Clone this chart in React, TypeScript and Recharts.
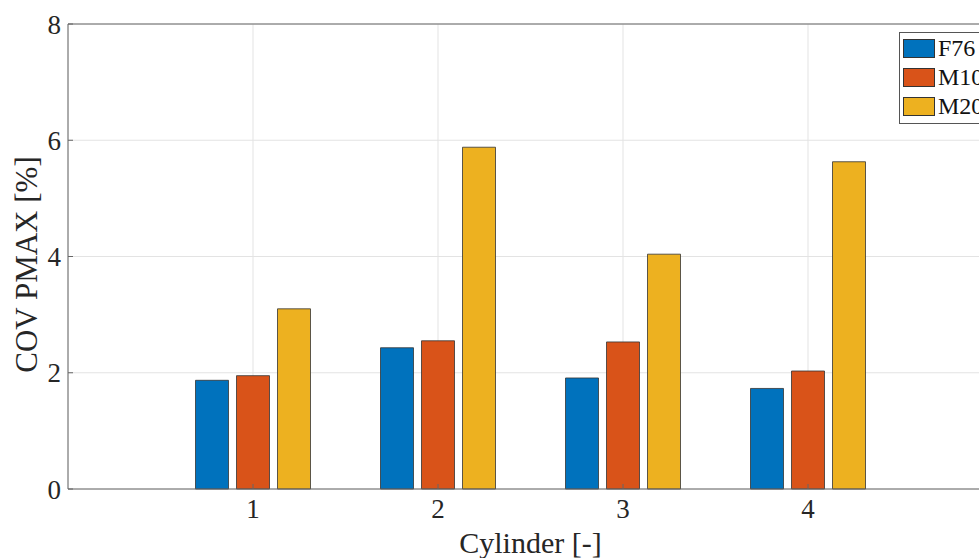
import { BarChart, Bar, XAxis, YAxis, CartesianGrid, Legend, ReferenceLine } from 'recharts';

const cylinders = [1, 2, 3, 4];
const f76 = [1.87, 2.43, 1.91, 1.73];
const m10 = [1.95, 2.55, 2.53, 2.03];
const m20 = [3.1, 5.88, 4.04, 5.63];
const yTicks = [0, 2, 4, 6, 8];

const series = [
    { key: 'F76', color: '#0072BD' },
    { key: 'M10', color: '#D95319' },
    { key: 'M20', color: '#EDB120' },
];

const data = cylinders.map((c, i) => ({ cyl: c, F76: f76[i], M10: m10[i], M20: m20[i] }));

const font = '"Liberation Serif", "DejaVu Serif", serif';
const axisColor = '#666666';
const textColor = '#262626';

function LegendBox() {
    return (
        <div
            style={{
                background: '#fff',
                border: '1px solid #555',
                padding: '1px 10px 2px 3px',
                fontFamily: font,
                fontSize: 24,
                color: '#111',
            }}
        >
            {series.map((s) => (
                <div key={s.key} style={{ display: 'flex', alignItems: 'center', height: 29 }}>
                    <span
                        style={{
                            display: 'inline-block',
                            width: 30,
                            height: 17,
                            background: s.color,
                            border: '1px solid #333',
                            marginRight: 3,
                        }}
                    />
                    <span>{s.key}</span>
                </div>
            ))}
        </div>
    );
}

function YLabel(props: any) {
    const vb = props.viewBox || { x: 0, y: 0, width: 68, height: 465 };
    const x = vb.x + 37;
    const y = vb.y + vb.height / 2 + 8;
    return (
        <text
            x={x}
            y={y}
            transform={`rotate(-90, ${x}, ${y})`}
            textAnchor="middle"
            fontFamily={font}
            fontSize={31}
            fill={textColor}
        >
            COV PMAX [%]
        </text>
    );
}

export default function App() {
    return (
        <div style={{ position: 'absolute', left: 0, top: 0, width: 979, height: 558, overflow: 'hidden', background: '#fff' }}>
            <BarChart
                width={1000}
                height={558}
                data={data}
                margin={{ top: 24, right: 7, left: 0, bottom: 0 }}
                barSize={33}
                barGap={8}
            >
                <CartesianGrid stroke="#e3e3e3" />
                <XAxis
                    dataKey="cyl"
                    type="number"
                    domain={[0, 5]}
                    ticks={cylinders}
                    height={69}
                    stroke={axisColor}
                    tickSize={-5}
                    tickMargin={15}
                    tick={{ fill: textColor, fontFamily: font, fontSize: 27 }}
                    label={{
                        value: 'Cylinder [-]',
                        position: 'insideBottom',
                        offset: 5,
                        fill: textColor,
                        fontFamily: font,
                        fontSize: 30,
                    }}
                />
                <YAxis
                    domain={[0, 8]}
                    ticks={yTicks}
                    width={68}
                    stroke={axisColor}
                    tickSize={-5}
                    tickMargin={12}
                    tick={{ fill: textColor, fontFamily: font, fontSize: 27 }}
                    label={<YLabel />}
                />
                <ReferenceLine y={8} stroke={axisColor} />
                <Legend
                    layout="horizontal"
                    verticalAlign="middle"
                    align="center"
                    content={() => <LegendBox />}
                    wrapperStyle={{ left: 899, top: 32, width: 'auto' }}
                />
                {series.map((s) => (
                    <Bar
                        key={s.key}
                        dataKey={s.key}
                        fill={s.color}
                        stroke="#333"
                        strokeWidth={0.8}
                        isAnimationActive={false}
                    />
                ))}
            </BarChart>
        </div>
    );
}
